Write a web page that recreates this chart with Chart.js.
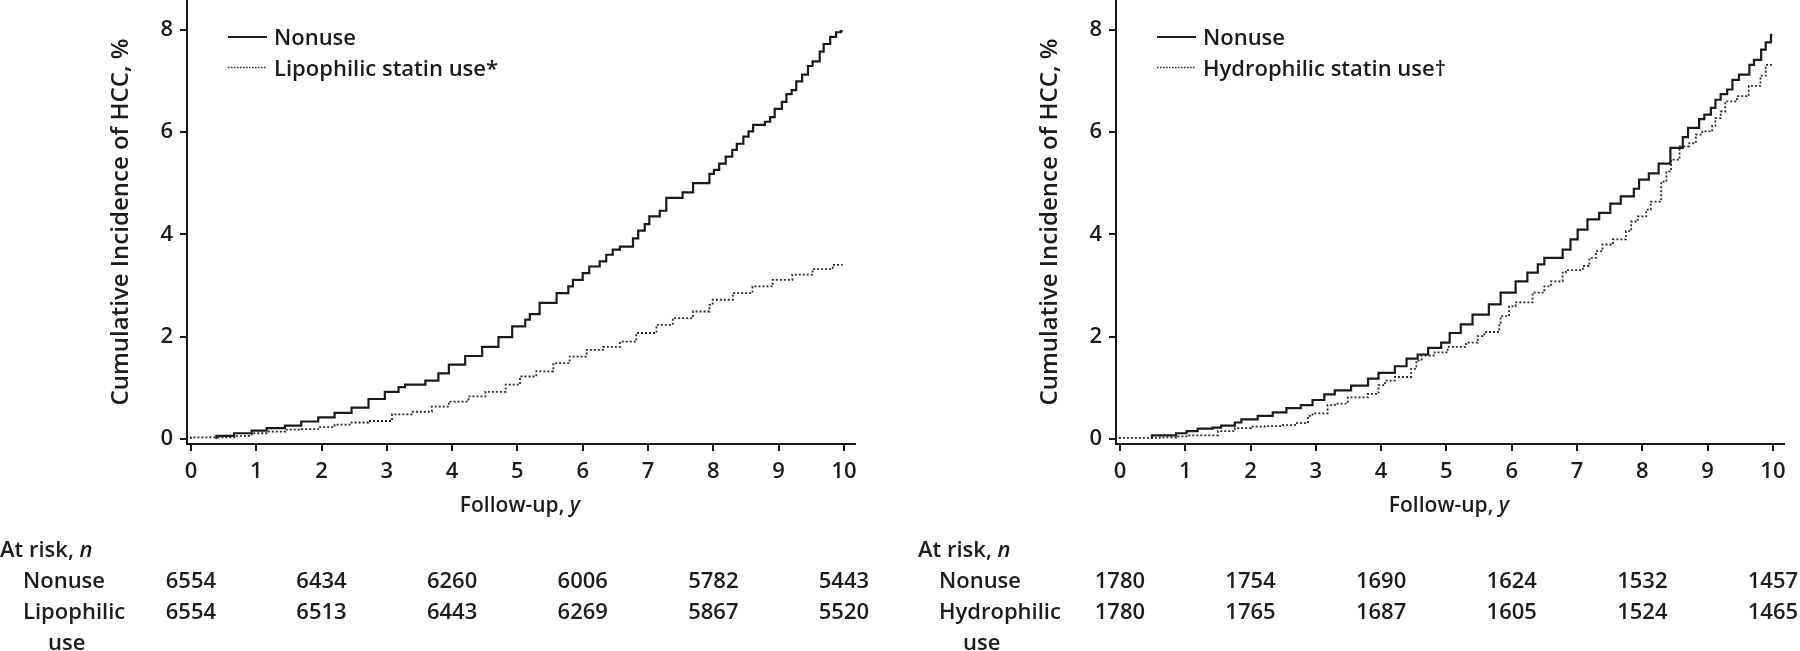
<!DOCTYPE html>
<html><head><meta charset="utf-8">
<script src="https://cdn.jsdelivr.net/npm/chart.js@4.4.0/dist/chart.umd.min.js"></script>
<style>
html,body{margin:0;padding:0;background:#fff;width:1800px;height:651px;overflow:hidden}
canvas{position:absolute;top:0}
#c1{left:0}
#c2{left:900px}
</style></head><body>
<canvas id="c1" width="900" height="651"></canvas>
<canvas id="c2" width="900" height="651"></canvas>
<script>
// ---------- data ----------
const xTickValues = [0,1,2,3,4,5,6,7,8,9,10];
const yTickValues = [0,2,4,6,8];
const riskTimes = [0,2,4,6,8,10];

const lipoNonuseT = [0.39,0.66,0.93,1.16,1.44,1.69,1.95,2.2,2.46,2.72,2.97,3.18,3.28,3.59,3.79,3.95,4.2,4.46,4.71,4.92,5.12,5.19,5.34,5.6,5.78,5.85,6.0,6.1,6.26,6.36,6.46,6.57,6.77,6.85,6.95,7.02,7.18,7.28,7.53,7.69,7.94,8.01,8.09,8.19,8.29,8.36,8.46,8.54,8.61,8.79,8.87,8.94,9.05,9.12,9.2,9.27,9.36,9.45,9.52,9.63,9.69,9.79,9.88,9.95,9.98];
const lipoNonuseV = [0,0.06,0.11,0.16,0.21,0.26,0.34,0.42,0.51,0.61,0.78,0.92,1.01,1.06,1.14,1.28,1.45,1.62,1.80,1.99,2.2,2.33,2.44,2.66,2.85,2.98,3.11,3.24,3.37,3.47,3.60,3.70,3.76,3.92,4.07,4.20,4.35,4.46,4.71,4.82,5.0,5.18,5.26,5.38,5.52,5.65,5.77,5.91,6.01,6.14,6.2,6.29,6.45,6.59,6.74,6.82,6.99,7.12,7.29,7.38,7.57,7.72,7.86,7.95,7.97];

const lipoUseT = [0,0.67,0.93,1.19,1.44,1.69,1.95,2.2,2.46,2.72,3.08,3.38,3.69,3.95,4.25,4.51,4.82,5.04,5.29,5.55,5.8,6.06,6.31,6.57,6.82,7.13,7.38,7.69,7.94,7.99,8.3,8.6,8.91,9.21,9.52,9.83,9.98];
const lipoUseV = [0,0.03,0.06,0.11,0.14,0.18,0.19,0.23,0.28,0.32,0.35,0.48,0.53,0.63,0.73,0.83,0.92,1.06,1.22,1.32,1.48,1.61,1.74,1.80,1.90,2.07,2.23,2.36,2.49,2.62,2.72,2.85,2.98,3.11,3.21,3.32,3.40];

const hydroNonuseT = [0.49,0.86,1.02,1.19,1.42,1.55,1.76,1.86,2.11,2.34,2.55,2.77,2.95,3.13,3.29,3.54,3.80,3.96,4.21,4.39,4.56,4.72,4.92,5.05,5.22,5.4,5.65,5.83,6.06,6.24,6.4,6.5,6.78,6.9,7.01,7.16,7.34,7.51,7.67,7.87,7.95,8.1,8.25,8.43,8.62,8.7,8.87,8.95,9.05,9.12,9.2,9.3,9.38,9.48,9.64,9.71,9.82,9.89,9.97,9.99];
const hydroNonuseV = [0,0.07,0.11,0.15,0.2,0.22,0.26,0.32,0.38,0.45,0.52,0.60,0.66,0.76,0.87,0.95,1.04,1.18,1.29,1.42,1.57,1.65,1.78,1.88,2.07,2.24,2.43,2.63,2.86,3.08,3.25,3.41,3.54,3.70,3.90,4.09,4.29,4.42,4.60,4.74,4.89,5.07,5.19,5.38,5.69,5.9,6.08,6.25,6.34,6.47,6.63,6.74,6.83,7.02,7.12,7.31,7.41,7.61,7.75,7.9];

const hydroUseT = [0,0.61,0.86,1.02,1.5,1.76,2.01,2.22,2.47,2.68,2.88,2.95,3.18,3.29,3.49,3.8,3.96,4.06,4.21,4.46,4.54,4.62,4.82,5.02,5.3,5.48,5.58,5.81,5.83,5.96,6.06,6.32,6.5,6.6,6.78,6.83,7.09,7.19,7.29,7.39,7.55,7.75,7.83,7.93,8.06,8.13,8.29,8.37,8.44,8.57,8.72,8.82,8.92,9.07,9.12,9.2,9.27,9.45,9.63,9.81,9.89,9.97,9.99];
const hydroUseV = [0,0.02,0.03,0.05,0.07,0.15,0.21,0.24,0.25,0.27,0.31,0.45,0.50,0.66,0.69,0.81,0.88,1.05,1.14,1.21,1.37,1.53,1.63,1.69,1.80,1.88,2.01,2.09,2.27,2.40,2.59,2.67,2.86,2.98,3.08,3.25,3.30,3.38,3.54,3.67,3.80,3.90,4.06,4.25,4.35,4.48,4.64,5.03,5.23,5.46,5.72,5.78,5.95,6.01,6.12,6.27,6.40,6.60,6.70,6.90,7.10,7.31,7.31];

const riskLipoNonuse = [6554,6434,6260,6006,5782,5443];
const riskLipoUse = [6554,6513,6443,6269,5867,5520];
const riskHydroNonuse = [1780,1754,1690,1624,1532,1457];
const riskHydroUse = [1780,1765,1687,1605,1524,1465];

// ---------- helpers ----------
const FAM = '"Open Sans", "Noto Sans", sans-serif';
const TXT = '#1c1c1c';
const LINE = '#1a1a1a';
const FS = 22;
function zip(t, v) { const n = Math.min(t.length, v.length); const o = []; for (let i = 0; i < n; i++) o.push({x: t[i], y: v[i]}); return o; }
function fnt(italic, size) { return (italic ? 'italic ' : '') + '600 ' + (size || FS) + 'px ' + FAM; }
function drawMixed(ctx, parts, x, y, align, size) {
  let w = 0;
  parts.forEach(p => { ctx.font = fnt(p.i, size); p.w = ctx.measureText(p.t).width; w += p.w; });
  let cx = align === 'center' ? x - w / 2 : x;
  ctx.textAlign = 'left';
  parts.forEach(p => { ctx.font = fnt(p.i, size); ctx.fillText(p.t, cx, y); cx += p.w; });
}

const extras = {
  id: 'extras',
  afterDraw(chart, args, o) {
    const ctx = chart.ctx, ca = chart.chartArea, xs = chart.scales.x;
    ctx.save();
    ctx.fillStyle = TXT;
    ctx.textBaseline = 'alphabetic';
    // legend
    chart.data.datasets.forEach((ds, i) => {
      const ly = 37 + i * 30.5;
      ctx.save();
      ctx.strokeStyle = ds.borderColor;
      ctx.lineWidth = i === 0 ? 2 : 1.5;
      ctx.setLineDash(i === 0 ? [] : [1.5, 1.5]);
      ctx.beginPath(); ctx.moveTo(ca.left + 41, ly); ctx.lineTo(ca.left + 80, ly); ctx.stroke();
      ctx.restore();
      ctx.font = fnt(false); ctx.textAlign = 'left';
      ctx.fillText(ds.label, ca.left + 87, ly + 8);
    });
    // x title
    drawMixed(ctx, [{t: 'Follow-up, '}, {t: 'y', i: true}], (ca.left + ca.right) / 2 - 1, 512, 'center', 21);
    // at risk table
    drawMixed(ctx, [{t: 'At risk, '}, {t: 'n', i: true}], o.atRiskX, 557, 'left');
    o.rows.forEach((r, ri) => {
      const by = 588 + ri * 31;
      ctx.font = fnt(false); ctx.textAlign = 'left';
      ctx.fillText(r.label[0], o.labelX, by);
      if (r.label[1]) ctx.fillText(r.label[1], o.useX, by + 31);
      ctx.textAlign = 'center';
      r.values.forEach((v, k) => { ctx.fillText(String(v), xs.getPixelForValue(riskTimes[k]), by); });
    });
    ctx.restore();
  }
};

function makeChart(id, labels, sets, opt) {
  const axisCommon = {
    type: 'linear',
    grid: {drawOnChartArea: false, drawTicks: true, tickLength: 7, tickColor: LINE, tickWidth: 2, color: LINE, lineWidth: 2},
    border: {display: true, color: LINE, width: 2},
    ticks: {color: TXT, font: {family: FAM, size: FS, weight: '600'}}
  };
  return new Chart(document.getElementById(id), {
    type: 'line',
    data: {
      datasets: [
        {label: labels[0], data: sets[0], borderColor: LINE, borderWidth: 2.2, stepped: 'after', pointRadius: 0, fill: false},
        {label: labels[1], data: sets[1], borderColor: '#2a2a2a', borderWidth: 1.8, borderDash: [2, 2], stepped: 'after', pointRadius: 0, fill: false}
      ]
    },
    options: {
      responsive: false, animation: false, devicePixelRatio: 1,
      layout: {padding: {left: 0, right: opt.padRight, top: 0, bottom: 0}, autoPadding: false},
      plugins: {legend: {display: false}, tooltip: {enabled: false}, extras: opt},
      scales: {
        x: Object.assign({}, axisCommon, {
          min: -0.06, max: 10.17,
          ticks: Object.assign({}, axisCommon.ticks, {padding: 8, maxRotation: 0}),
          afterBuildTicks: s => { s.ticks = xTickValues.map(v => ({value: v})); },
          afterFit: s => { s.height = 207; s.paddingLeft = 0; s.paddingRight = 0; s.paddingTop = 0; s.paddingBottom = 0; }
        }),
        y: Object.assign({}, axisCommon, {
          min: -0.1, max: 8.58,
          ticks: Object.assign({}, axisCommon.ticks, {padding: 7}),
          title: {display: true, text: 'Cumulative Incidence of HCC, %', color: TXT,
                  font: {family: FAM, size: 24, weight: '600'}, padding: {top: opt.titlePad, bottom: 0}},
          afterBuildTicks: s => { s.ticks = yTickValues.map(v => ({value: v})); },
          afterFit: s => { s.width = opt.axisWidth; s.paddingTop = 0; s.paddingBottom = 0; s.paddingLeft = 0; s.paddingRight = 0; }
        })
      }
    },
    plugins: [extras]
  });
}

makeChart('c1', ['Nonuse', 'Lipophilic statin use*'],
  [zip(lipoNonuseT, lipoNonuseV), zip(lipoUseT, lipoUseV)],
  {axisWidth: 187, padRight: 45, titlePad: 106.6, atRiskX: 0, labelX: 23, useX: 48,
   rows: [{label: ['Nonuse'], values: riskLipoNonuse}, {label: ['Lipophilic', 'use'], values: riskLipoUse}]});

makeChart('c2', ['Nonuse', 'Hydrophilic statin use\u2020'],
  [zip(hydroNonuseT, hydroNonuseV), zip(hydroUseT, hydroUseV)],
  {axisWidth: 216, padRight: 16, titlePad: 135.6, atRiskX: 18, labelX: 39, useX: 63,
   rows: [{label: ['Nonuse'], values: riskHydroNonuse}, {label: ['Hydrophilic', 'use'], values: riskHydroUse}]});
</script>
</body></html>
